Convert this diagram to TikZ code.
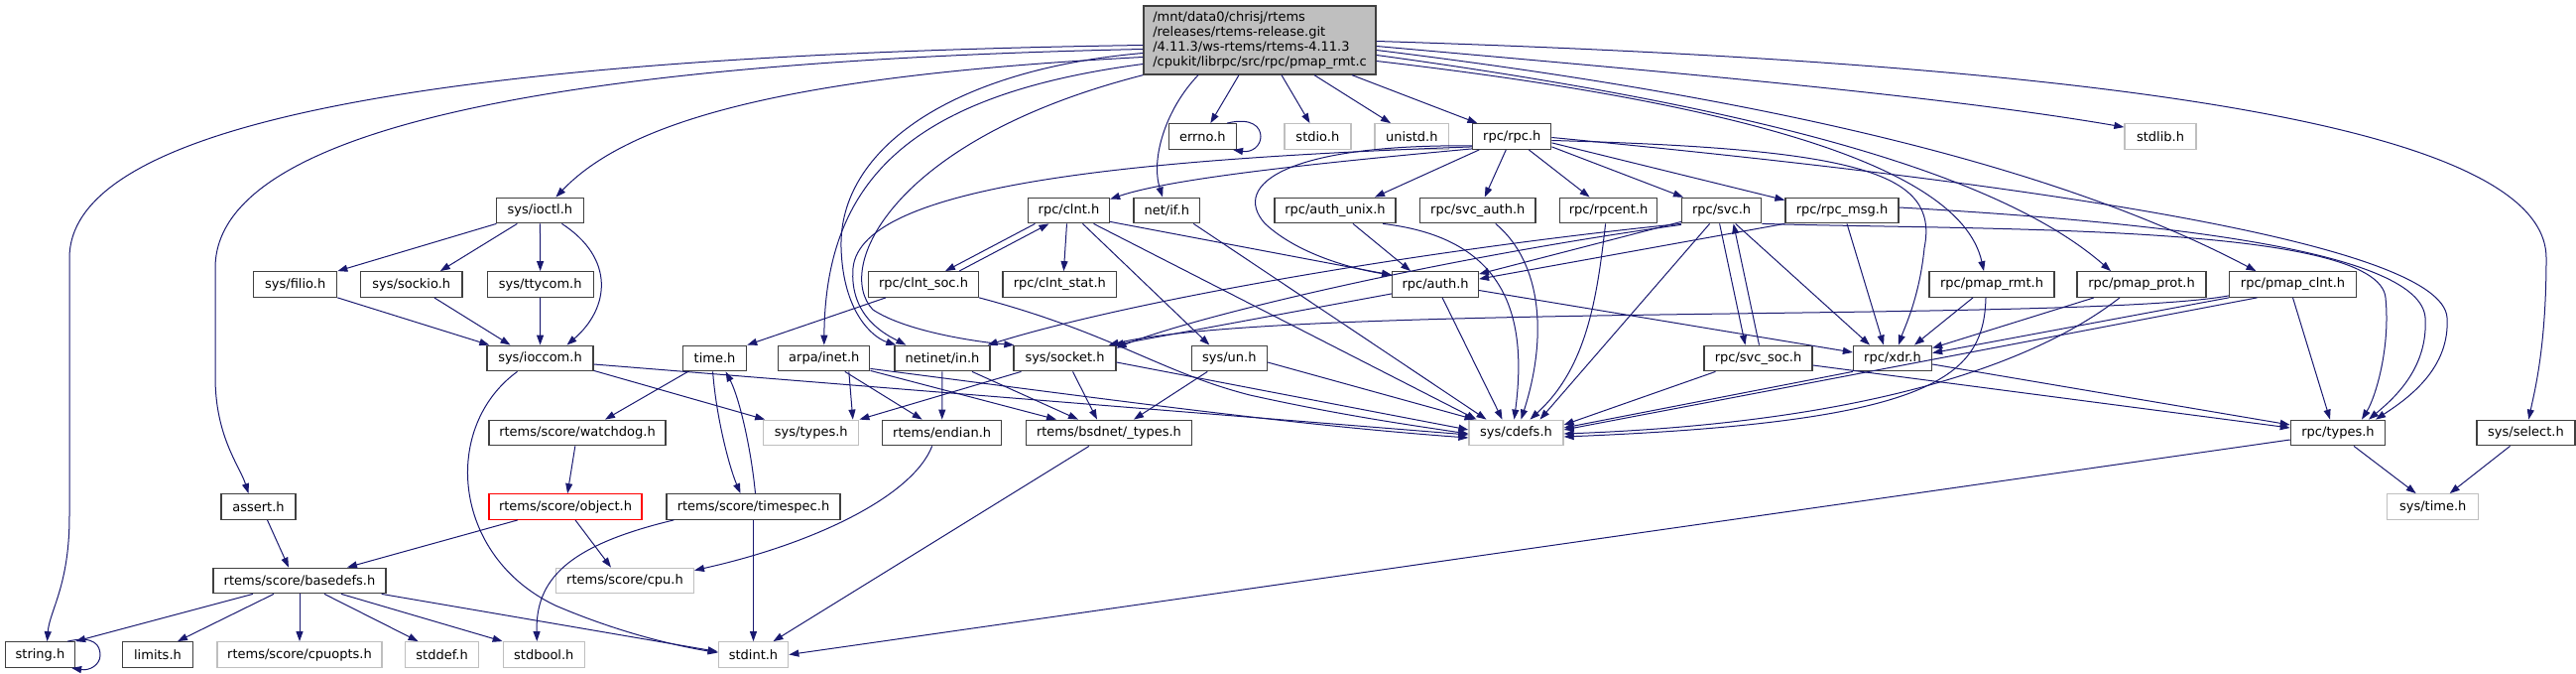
\documentclass[tikz,border=0pt]{standalone}
\usepackage{fontspec}
\newfontfamily\dxfam{DejaVu Sans}
\usetikzlibrary{arrows.meta}
\definecolor{edgec}{HTML}{191970}
\definecolor{boxc}{HTML}{404040}
\definecolor{extc}{HTML}{BFBFBF}
\definecolor{rootc}{HTML}{BFBFBF}
\newcommand\dxfont{\dxfam\fontsize{13pt}{15pt}\selectfont}
\begin{document}
\begin{tikzpicture}[x=1pt,y=-1pt,
  box/.style={draw=boxc, line width=1.3pt, fill=white, minimum height=25.5pt, inner sep=0pt, font=\dxfont},
  ext/.style={box, draw=extc},
  bad/.style={box, draw=red},
  edge/.style={draw=edgec, line width=1pt, -{Triangle[length=10pt,width=7pt]}}]
\useasboundingbox (0,0) rectangle (2597,679);
% root
\node[box, fill=rootc, minimum width=234pt, minimum height=69pt, align=left] (root) at (1270,40.5)
 {/mnt/data0/chrisj/rtems\\/releases/rtems-release.git\\/4.11.3/ws-rtems/rtems-4.11.3\\/cpukit/librpc/src/rpc/pmap\_rmt.c};
% row 1
\node[box, minimum width=68pt] (errno) at (1212.4,137.5) {errno.h};
\node[ext, minimum width=67pt] (stdio) at (1328.4,137.5) {stdio.h};
\node[ext, minimum width=74.5pt] (unistd) at (1423.3,137.5) {unistd.h};
\node[box, minimum width=79pt] (rpcrpc) at (1524.3,137.5) {rpc/rpc.h};
\node[ext, minimum width=72pt] (stdlib) at (2178,137.5) {stdlib.h};
% row 2
\node[box, minimum width=88pt] (ioctl) at (544.4,212) {sys/ioctl.h};
\node[box, minimum width=82pt] (clnt) at (1077.5,212) {rpc/clnt.h};
\node[box, minimum width=66.6pt] (netif) at (1176.3,212) {net/if.h};
\node[box, minimum width=122pt] (authunix) at (1346,212) {rpc/auth\_unix.h};
\node[box, minimum width=116.4pt] (svcauth) at (1489.8,212) {rpc/svc\_auth.h};
\node[box, minimum width=98.3pt] (rpcent) at (1621.6,212) {rpc/rpcent.h};
\node[box, minimum width=80pt] (svc) at (1735.6,212) {rpc/svc.h};
\node[box, minimum width=114pt] (rpcmsg) at (1857,212) {rpc/rpc\_msg.h};
% row 3
\node[box, minimum width=84pt] (filio) at (297.7,286.5) {sys/filio.h};
\node[box, minimum width=102.6pt] (sockio) at (414.8,286.5) {sys/sockio.h};
\node[box, minimum width=107pt] (ttycom) at (544.7,286.5) {sys/ttycom.h};
\node[box, minimum width=111pt] (clntsoc) at (931,286.5) {rpc/clnt\_soc.h};
\node[box, minimum width=114.8pt] (clntstat) at (1068.4,286.5) {rpc/clnt\_stat.h};
\node[box, minimum width=86.6pt] (auth) at (1447.1,286.5) {rpc/auth.h};
\node[box, minimum width=126pt] (pmaprmt) at (2008,286.5) {rpc/pmap\_rmt.h};
\node[box, minimum width=130pt] (pmapprot) at (2159,286.5) {rpc/pmap\_prot.h};
\node[box, minimum width=128pt] (pmapclnt) at (2311.5,286.5) {rpc/pmap\_clnt.h};
% row 4
\node[box, minimum width=107pt] (ioccom) at (544.5,361) {sys/ioccom.h};
\node[box, minimum width=64pt] (timeh) at (720.6,361) {time.h};
\node[box, minimum width=92pt] (arpainet) at (830.8,361) {arpa/inet.h};
\node[box, minimum width=96pt] (netinetin) at (950,361) {netinet/in.h};
\node[box, minimum width=103pt] (syssocket) at (1073.5,361) {sys/socket.h};
\node[box, minimum width=76pt] (sysun) at (1239.3,361) {sys/un.h};
\node[box, minimum width=109pt] (svcsoc) at (1772.5,361) {rpc/svc\_soc.h};
\node[box, minimum width=79pt] (xdr) at (1908,361) {rpc/xdr.h};
% row 5
\node[ext, minimum width=96pt] (types) at (817.8,436) {sys/types.h};
\node[box, minimum width=178pt] (watchdog) at (582,436) {rtems/score/watchdog.h};
\node[box, minimum width=120pt] (endian) at (949.7,436) {rtems/endian.h};
\node[box, minimum width=166.5pt] (bsdtypes) at (1118,436) {rtems/bsdnet/\_types.h};
\node[ext, minimum width=95pt] (cdefs) at (1528.5,436) {sys/cdefs.h};
\node[box, minimum width=95.3pt] (rpctypes) at (2357,436) {rpc/types.h};
\node[box, minimum width=99pt] (select) at (2546.5,436) {sys/select.h};
% row 6
\node[box, minimum width=75pt] (assert) at (260.5,510.5) {assert.h};
\node[bad, minimum width=154pt] (object) at (570,510.5) {rtems/score/object.h};
\node[box, minimum width=175pt] (timespec) at (759.5,510.5) {rtems/score/timespec.h};
\node[ext, minimum width=92pt] (systime) at (2452.7,510.5) {sys/time.h};
% row 7
\node[box, minimum width=174pt] (basedefs) at (302,585) {rtems/score/basedefs.h};
\node[ext, minimum width=138.7pt] (cpu) at (630,585) {rtems/score/cpu.h};
% row 8
\node[box, minimum width=70pt] (string) at (40.5,659.5) {string.h};
\node[box, minimum width=70.4pt] (limits) at (159,659.5) {limits.h};
\node[ext, minimum width=166pt] (cpuopts) at (302,659.5) {rtems/score/cpuopts.h};
\node[ext, minimum width=74.4pt] (stddef) at (445.6,659.5) {stddef.h};
\node[ext, minimum width=82pt] (stdbool) at (548.3,659.5) {stdbool.h};
\node[ext, minimum width=70.5pt] (stdint) at (759.5,659.5) {stdint.h};

% ---- edges from root
\draw[edge] ([yshift=-5pt]root.west) .. controls (520,55) and (70,110) .. (70,260) -- (70,520) .. controls (70,590) and (50,615) .. ([xshift=7pt]string.north);
\draw[edge] ([yshift=-9pt]root.west) .. controls (560,62) and (217,130) .. (217,270) -- (217,380) .. controls (217,440) and (242,470) .. ([xshift=-10pt]assert.north);
\draw[edge] ([yshift=-17pt]root.west) .. controls (820,75) and (640,115) .. ([xshift=16pt]ioctl.north);
\draw[edge] ([yshift=-24pt]root.west) .. controls (920,95) and (832,180) .. (arpainet.north);
\draw[edge] ([yshift=-13pt]root.west) .. controls (960,70) and (845,150) .. (848,250) .. controls (850,315) and (880,340) .. ([xshift=2pt]netinetin.north west);
\draw[edge] (root.south west) .. controls (900,140) and (840,270) .. (880,312) .. controls (915,335) and (990,345) .. ([xshift=1pt]syssocket.north west);
\draw[edge] ([xshift=-21pt]root.south) -- (errno);
\draw[edge] ([xshift=22pt]root.south) -- (stdio);
\draw[edge] ([xshift=55pt]root.south) -- (unistd);
\draw[edge] ([xshift=93pt]root.south) -- (rpcrpc);
\draw[edge] ([xshift=-62pt]root.south) .. controls (1175,110) and (1160,160) .. (netif);
\draw[edge] ([yshift=-6pt]root.east) .. controls (1650,70) and (1950,95) .. ([yshift=-4pt]stdlib.north west);
\draw[edge] ([yshift=-1pt]root.east) .. controls (2150,65) and (2567,130) .. (2567,260) .. controls (2567,350) and (2555,395) .. (select);
\draw[edge] ([yshift=-10pt]root.east) .. controls (1750,95) and (2060,160) .. ([xshift=-37pt]pmapclnt.north);
\draw[edge] ([yshift=-15pt]root.east) .. controls (1750,105) and (2010,170) .. ([xshift=-31pt]pmapprot.north);
\draw[edge] ([yshift=-21pt]root.east) .. controls (1720,100) and (1975,160) .. ([xshift=-8pt]pmaprmt.north);
% ---- rpc/rpc.h
\draw[edge] ([yshift=1pt]rpcrpc.south west) .. controls (1320,165) and (1180,180) .. ([yshift=-2pt]clnt.north east);
\draw[edge] ([yshift=3pt]rpcrpc.south west) .. controls (1150,160) and (868,185) .. (860,270) .. controls (856,320) and (895,338) .. ([xshift=12pt]netinetin.north west);
\draw[edge] ([yshift=4pt]rpcrpc.south west) .. controls (1300,145) and (1240,185) .. (1275,225) .. controls (1310,258) and (1370,272) .. ([yshift=-4pt]auth.north west);
\draw[edge] ([xshift=-33pt]rpcrpc.south) -- ([xshift=40pt]authunix.north);
\draw[edge] ([xshift=-6pt]rpcrpc.south) -- ([xshift=7pt]svcauth.north);
\draw[edge] ([xshift=17pt]rpcrpc.south) -- ([xshift=-19pt]rpcent.north);
\draw[edge] ([yshift=3pt]rpcrpc.south east) -- ([xshift=2pt]svc.north west);
\draw[edge] ([yshift=7pt]rpcrpc.south east) -- ([yshift=-3pt]rpcmsg.north west);
\draw[edge] ([yshift=-4pt]rpcrpc.east) .. controls (1880,150) and (1955,175) .. (1940,250) .. controls (1935,300) and (1920,330) .. ([xshift=6pt]xdr.north);
\draw[edge] ([yshift=-1pt]rpcrpc.east) .. controls (2050,185) and (2462,245) .. (2467,320) .. controls (2470,370) and (2430,400) .. ([xshift=38pt]rpctypes.north);
% ---- rpc/clnt.h
\draw[edge] ([xshift=-34pt]clnt.south) -- ([xshift=22pt]clntsoc.north);
\draw[edge] ([xshift=36pt]clntsoc.north) -- ([xshift=-20pt]clnt.south);
\draw[edge] ([xshift=-2pt]clnt.south) -- ([xshift=4pt]clntstat.north);
\draw[edge] ([yshift=2pt]clnt.south east) -- ([yshift=-4pt]auth.north west);
\draw[edge] ([xshift=14pt]clnt.south) -- ([xshift=-20pt]sysun.north);
\draw[edge] ([xshift=25pt]clnt.south) -- ([xshift=-40pt]cdefs.north);
\draw[edge] ([xshift=27pt]netif.south) -- ([xshift=-30pt]cdefs.north);
% ---- row 2 rpc headers
\draw[edge] ([xshift=18pt]authunix.south) -- ([xshift=-25pt]auth.north);
\draw[edge] ([xshift=48pt]authunix.south) .. controls (1520,240) and (1540,320) .. ([xshift=-2pt]cdefs.north);
\draw[edge] ([xshift=18pt]svcauth.south) .. controls (1555,265) and (1560,340) .. ([xshift=5pt]cdefs.north);
\draw[edge] ([xshift=-3pt]rpcent.south) .. controls (1610,300) and (1600,370) .. ([xshift=14pt]cdefs.north);
\draw[edge] ([xshift=-12pt]svc.south) -- ([xshift=24pt]cdefs.north);
\draw[edge] ([xshift=-2pt]svc.south) -- ([xshift=-13pt]svcsoc.north);
\draw[edge] ([xshift=1pt]svcsoc.north) -- ([xshift=12pt]svc.south);
\draw[edge] ([xshift=14pt]svc.south) -- ([xshift=-23pt]xdr.north);
\draw[edge] ([yshift=2pt]svc.south west) -- ([yshift=-3pt]auth.north east);
\draw[edge] (svc.south west) .. controls (1450,250) and (1150,300) .. ([xshift=-3pt]netinetin.north east);
\draw[edge] ([yshift=-1pt]svc.south west) .. controls (1450,260) and (1200,320) .. ([yshift=-3pt]syssocket.north east);
\draw[edge] (svc.south east) .. controls (2000,232) and (2398,225) .. (2405,300) .. controls (2410,350) and (2395,400) .. ([xshift=24pt]rpctypes.north);
\draw[edge] (rpcmsg.south west) -- ([yshift=-8pt]auth.north east);
\draw[edge] ([xshift=5pt]rpcmsg.south) -- ([xshift=-9pt]xdr.north);
\draw[edge] ([yshift=3pt]rpcmsg.east) .. controls (2200,225) and (2440,255) .. (2445,320) .. controls (2448,370) and (2415,400) .. ([xshift=31pt]rpctypes.north);
% ---- rpc/auth.h
\draw[edge] ([yshift=4pt]auth.south west) -- ([xshift=-3pt]syssocket.north east);
\draw[edge] ([xshift=7pt]auth.south) -- ([xshift=-14pt]cdefs.north);
\draw[edge] ([yshift=-6pt]auth.east) -- ([yshift=6pt]xdr.west);
% ---- pmap headers
\draw[edge] ([xshift=-19pt]pmaprmt.south) -- ([xshift=22pt]xdr.north);
\draw[edge] ([xshift=-6pt]pmaprmt.south) .. controls (2000,380) and (1950,425) .. ([yshift=-4pt]cdefs.east);
\draw[edge] ([xshift=-48pt]pmapprot.south) -- ([yshift=-3pt]xdr.north east);
\draw[edge] ([xshift=-22pt]pmapprot.south) .. controls (2060,360) and (1900,425) .. ([yshift=-1pt]cdefs.east);
\draw[edge] (pmapclnt.south west) -- ([yshift=-8pt]xdr.north east);
\draw[edge] ([xshift=-36pt]pmapclnt.south) -- ([yshift=3pt]cdefs.east);
\draw[edge] (pmapclnt.south) -- ([xshift=-8pt]rpctypes.north);
\draw[edge] ([yshift=2pt]pmapclnt.south west) .. controls (2100,325) and (1300,305) .. ([xshift=-8pt]syssocket.north east);
% ---- svc_soc, xdr, types
\draw[edge] ([xshift=-43pt]svcsoc.south) -- ([yshift=8pt]cdefs.east);
\draw[edge] (xdr.south west) -- ([yshift=5pt]cdefs.east);
\draw[edge] ([yshift=-7pt]svcsoc.east) -- ([yshift=5pt]rpctypes.west);
\draw[edge] ([yshift=-6pt]xdr.east) -- ([yshift=8pt]rpctypes.west);
\draw[edge] ([yshift=-7pt]rpctypes.west) -- (stdint.east);
\draw[edge] ([xshift=16pt]rpctypes.south) -- ([xshift=-17pt]systime.north);
\draw[edge] ([xshift=-16pt]select.south) -- ([xshift=17pt]systime.north);
% ---- ioctl family
\draw[edge] ([xshift=-44pt]ioctl.south) -- (filio.north east);
\draw[edge] ([xshift=-23pt]ioctl.south) -- ([xshift=29pt]sockio.north);
\draw[edge] (ioctl) -- (ttycom);
\draw[edge] ([xshift=22pt]ioctl.south) .. controls (620,260) and (615,310) .. ([xshift=27pt]ioccom.north);
\draw[edge] (filio.south east) -- ([xshift=3pt]ioccom.north west);
\draw[edge] ([xshift=23pt]sockio.south) -- ([xshift=-30pt]ioccom.north);
\draw[edge] (ttycom) -- (ioccom);
\draw[edge] ([yshift=1pt]ioccom.south east) -- ([xshift=2pt]types.north west);
\draw[edge] ([yshift=-6pt]ioccom.east) -- ([yshift=-2pt]cdefs.west);
\draw[edge] ([xshift=-23pt]ioccom.south) .. controls (445,430) and (455,560) .. (560,610) .. controls (630,640) and (690,652) .. ([yshift=2pt]stdint.west);
% ---- time, rtems
\draw[edge] ([xshift=-27pt]timeh.south) -- ([xshift=28pt]watchdog.north);
\draw[edge] ([xshift=-2pt]timeh.south) .. controls (722,420) and (735,470) .. ([xshift=-13pt]timespec.north);
\draw[edge] ([xshift=2pt]timespec.north) .. controls (757,450) and (745,400) .. ([xshift=11pt]timeh.south);
\draw[edge] (watchdog) -- (object);
\draw[edge] ([xshift=-48pt]object.south) -- ([xshift=48pt]basedefs.north);
\draw[edge] ([xshift=10pt]object.south) -- ([xshift=-14pt]cpu.north);
\draw[edge] ([xshift=8pt]timespec.south west) .. controls (570,550) and (540,585) .. ([xshift=-7pt]stdbool.north);
\draw[edge] (timespec) -- (stdint);
\draw[edge] ([xshift=-38pt]clntsoc.south) -- (timeh.north east);
\draw[edge] (clntsoc.south east) .. controls (1120,335) and (1170,375) .. (1260,398) .. controls (1350,418) and (1420,428) .. ([yshift=-1pt]cdefs.west);
% ---- arpa, netinet, socket, un
\draw[edge] ([xshift=25pt]arpainet.south) -- ([xshift=42pt]types.north);
\draw[edge] ([xshift=21pt]arpainet.south) -- ([xshift=-20pt]endian.north);
\draw[edge] ([yshift=1pt]arpainet.south east) -- ([xshift=-53pt]bsdtypes.north);
\draw[edge] ([yshift=3pt]arpainet.south east) .. controls (1100,400) and (1300,428) .. ([yshift=-5pt]cdefs.west);
\draw[edge] (netinetin) -- (endian);
\draw[edge] ([xshift=30pt]netinetin.south) -- ([xshift=-31pt]bsdtypes.north);
\draw[edge] ([xshift=-44pt]syssocket.south) -- (types.north east);
\draw[edge] ([xshift=8pt]syssocket.south) -- ([xshift=-12pt]bsdtypes.north);
\draw[edge] ([yshift=-4pt]syssocket.east) -- ([yshift=3pt]cdefs.west);
\draw[edge] ([xshift=-22pt]sysun.south) -- ([xshift=25pt]bsdtypes.north);
\draw[edge] ([yshift=-4pt]sysun.east) -- ([xshift=-42pt]cdefs.north);
\draw[edge] ([xshift=-10pt]endian.south) .. controls (920,500) and (820,548) .. ([yshift=-3pt]cpu.north east);
\draw[edge] ([xshift=-20pt]bsdtypes.south) -- ([xshift=20pt]stdint.north);
% ---- basedefs
\draw[edge] ([xshift=9pt]assert.south) -- ([xshift=-11pt]basedefs.north);
\draw[edge] ([xshift=-47pt]basedefs.south) -- (string.north east);
\draw[edge] ([xshift=-26pt]basedefs.south) -- ([xshift=20pt]limits.north);
\draw[edge] (basedefs) -- (cpuopts);
\draw[edge] ([xshift=25pt]basedefs.south) -- ([xshift=-24pt]stddef.north);
\draw[edge] ([xshift=42pt]basedefs.south) -- (stdbool.north west);
\draw[edge] ([xshift=-5pt]basedefs.south east) -- ([yshift=3pt]stdint.west);
% ---- self loops
\draw[edge] ([xshift=-8pt]string.north east) .. controls (95,640) and (101,650) .. (101,660) .. controls (101,670) and (90,676) .. ([xshift=-4pt]string.south east);
\draw[edge] ([xshift=-10pt]errno.north east) .. controls (1262,118) and (1271,128) .. (1271,137.5) .. controls (1271,147) and (1262,154) .. ([xshift=-4pt]errno.south east);
\end{tikzpicture}
\end{document}
